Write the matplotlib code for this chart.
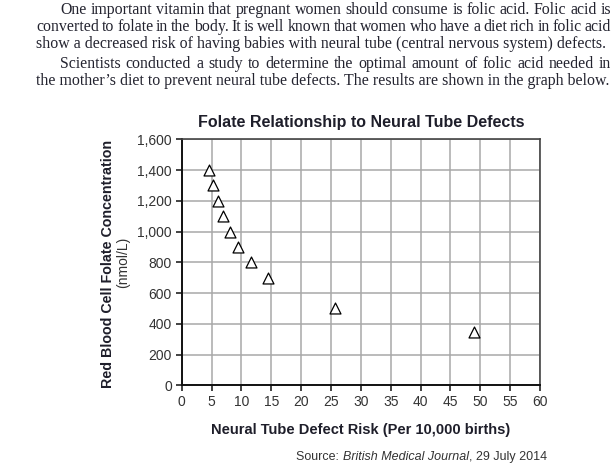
import matplotlib
matplotlib.use("Agg")
import matplotlib.pyplot as plt
from matplotlib.ticker import MultipleLocator, FuncFormatter

# data
risk = [4.5, 5.3, 6.0, 6.9, 8.1, 9.5, 11.6, 14.5, 25.6, 49.0]
folate = [1400, 1300, 1200, 1100, 1000, 900, 800, 700, 500, 345]

x_ticks_step = 5
y_ticks_step = 200

paragraph_lines = [
    "One important vitamin that pregnant women should consume is folic acid. Folic acid is",
    "converted to folate in the body. It is well known that women who have a diet rich in folic acid",
    "show a decreased risk of having babies with neural tube (central nervous system) defects.",
    "Scientists conducted a study to determine the optimal amount of folic acid needed in",
    "the mother\u2019s diet to prevent neural tube defects. The results are shown in the graph below.",
]
line_left = [60, 36, 36, 60, 36]
line_base = [14, 31, 48, 68, 85]
justified = [True, True, False, True, False]

W, H = 614, 474
fig = plt.figure(figsize=(W / 100, H / 100), dpi=100)
fig.patch.set_facecolor("white")
renderer = fig.canvas.get_renderer()

text_color = "#23232f"
serif = "Liberation Serif"
para_size = 11.4
right_edge = 611


def px(x, y):
    return x / W, 1 - y / H


# justified paragraph text, word by word
for line, x0, y, just in zip(paragraph_lines, line_left, line_base, justified):
    if not just:
        fig.text(*px(x0, y), line, family=serif, fontsize=para_size,
                 color=text_color, va="baseline", ha="left")
        continue
    words = line.split(" ")
    objs = []
    widths = []
    for w in words:
        t = fig.text(0, 0, w, family=serif, fontsize=para_size,
                     color=text_color, va="baseline", ha="left")
        widths.append(t.get_window_extent(renderer).width)
        objs.append(t)
    gap = (right_edge - x0 - sum(widths)) / (len(words) - 1)
    x = x0
    for t, wd in zip(objs, widths):
        t.set_position(px(x, y))
        x += wd + gap

# chart
ax = fig.add_axes([181.7 / W, 1 - 385.3 / H, (540 - 181.7) / W, (385.3 - 139.3) / H])
ax.scatter(risk, folate, marker="^", s=62, facecolors="white",
           edgecolors="black", linewidths=0.9, zorder=3, clip_on=False)

ax.set_xlim(0, 60)
ax.set_ylim(0, 1600)
ax.xaxis.set_major_locator(MultipleLocator(x_ticks_step))
ax.yaxis.set_major_locator(MultipleLocator(y_ticks_step))
ax.yaxis.set_major_formatter(FuncFormatter(lambda v, p: f"{int(v):,}"))
ax.grid(True, color="#a8a8a8", linewidth=1.1)
ax.set_axisbelow(True)

for side in ["left", "bottom"]:
    ax.spines[side].set_color("#111111")
    ax.spines[side].set_linewidth(1.4)
for side in ["top", "right"]:
    ax.spines[side].set_color("#444444")
    ax.spines[side].set_linewidth(1.2)

sans = "Liberation Sans"
ax.tick_params(direction="out", length=4, width=1.2, color="#222222",
               labelsize=10, labelcolor="#333333", pad=3)
for lbl in ax.get_xticklabels() + ax.get_yticklabels():
    lbl.set_family(sans)

ax.set_title("Folate Relationship to Neural Tube Defects", family=sans,
             fontsize=11.5, fontweight="bold", color="#1e1e2a", pad=9)
ax.set_xlabel("Neural Tube Defect Risk (Per 10,000 births)", family=sans,
              fontsize=10.5, fontweight="bold", color="#1e1e2a", labelpad=10)

fig.text(*px(108, 264), "Red Blood Cell Folate Concentration", family=sans,
         fontsize=10.3, fontweight="bold", color="#1e1e2a",
         rotation=90, ha="center", va="center")
fig.text(*px(123, 262), "(nmol/L)", family=sans, fontsize=10,
         color="#333333", rotation=90, ha="center", va="center")

# source line: mixed normal / italic
src_y = 457
parts = [("Source: ", "normal"), ("British Medical Journal", "italic"),
         (", 29 July 2014", "normal")]
objs = []
total = 0
for s, st in parts:
    t = fig.text(0, 0, s, family=sans, fontsize=9, style=st,
                 color="#333333", va="center", ha="left")
    w = t.get_window_extent(renderer).width
    objs.append((t, w))
    total += w
x = 547 - total
for t, w in objs:
    t.set_position(px(x, src_y))
    x += w

fig.savefig("out.png", dpi=100)
